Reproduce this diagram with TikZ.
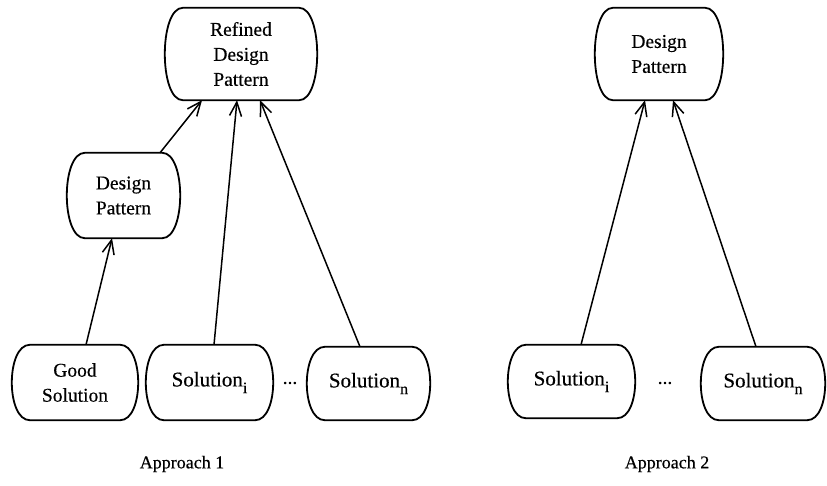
\documentclass[tikz,border=0pt]{standalone}
\usepackage{fontspec}
\setmainfont{Liberation Serif}[FakeBold=0.4]
\usetikzlibrary{arrows.meta,calc}
% lowered, upright index after a label
\newcommand{\idx}[1]{\raisebox{-0.32em}{\fontsize{16}{16}\selectfont #1}}
\begin{document}
\begin{tikzpicture}[x=1pt,y=-1pt,
  lbl/.style={align=center, inner sep=0pt, font=\fontsize{19.5}{25}\selectfont},
  sol/.style={lbl, font=\fontsize{21}{25}\selectfont},
  boxline/.style={line width=1.8pt},
  link/.style={line width=1.5pt, -{Straight Barb[length=14pt,width=12pt,line width=1.5pt]}},
  caption/.style={inner sep=0pt, font=\fontsize{18}{22}\selectfont}]
\useasboundingbox (0,0) rectangle (827,485);

% Approach 1
\node[lbl, minimum width=152pt, minimum height=92pt] (ref)  at (241,54)    {Refined\\Design\\Pattern};
\node[lbl, minimum width=113pt, minimum height=85pt] (dpl)  at (123.5,195.5) {Design\\Pattern};
\node[lbl, minimum width=126pt, minimum height=75pt] (good) at (75,382.5)  {Good\\Solution};
\node[sol, minimum width=127pt, minimum height=75pt] (soli) at (209.5,382.5) {Solution\idx{i}};
\node[sol, minimum width=123pt, minimum height=73pt] (soln) at (368.5,383.5) {Solution\idx{n}};
\node[lbl] (dotsa) at (290,383) {...};
\node[caption] (capa) at (182,464) {Approach 1};

% Approach 2
\node[lbl, minimum width=128pt, minimum height=92pt] (dpr)   at (659,54)    {Design\\Pattern};
\node[sol, minimum width=127pt, minimum height=73pt] (solib) at (571.5,381.5) {Solution\idx{i}};
\node[sol, minimum width=124pt, minimum height=73pt] (solnb) at (763,383.5) {Solution\idx{n}};
\node[lbl] (dotsb) at (665,383) {...};
\node[caption] (capb) at (667,464) {Approach 2};

% barrel-shaped outlines: straight top and bottom, bulging sides
\foreach \n in {ref,dpl,good,soli,soln,dpr,solib,solnb}{
  \draw[boxline]
    ($(\n.north west)+(18,0)$) -- ($(\n.north east)+(-18,0)$)
    .. controls ($(\n.north east)+(6,0)$) and ($(\n.south east)+(6,0)$) .. ($(\n.south east)+(-18,0)$)
    -- ($(\n.south west)+(18,0)$)
    .. controls ($(\n.south west)+(-6,0)$) and ($(\n.north west)+(-6,0)$) .. cycle;
}

% connectors
\draw[link] ([xshift=11pt]good.north) -- ([xshift=-11.5pt]dpl.south);
\draw[link] ([xshift=36.5pt]dpl.north) -- ([xshift=-39pt]ref.south);
\draw[link] ([xshift=4.5pt]soli.north) -- ([xshift=-4pt]ref.south);
\draw[link] ([xshift=-8.5pt]soln.north) -- ([xshift=19pt]ref.south);
\draw[link] ([xshift=9.5pt]solib.north) -- ([xshift=-14pt]dpr.south);
\draw[link] ([xshift=-7pt]solnb.north) -- ([xshift=14pt]dpr.south);
\end{tikzpicture}
\end{document}
